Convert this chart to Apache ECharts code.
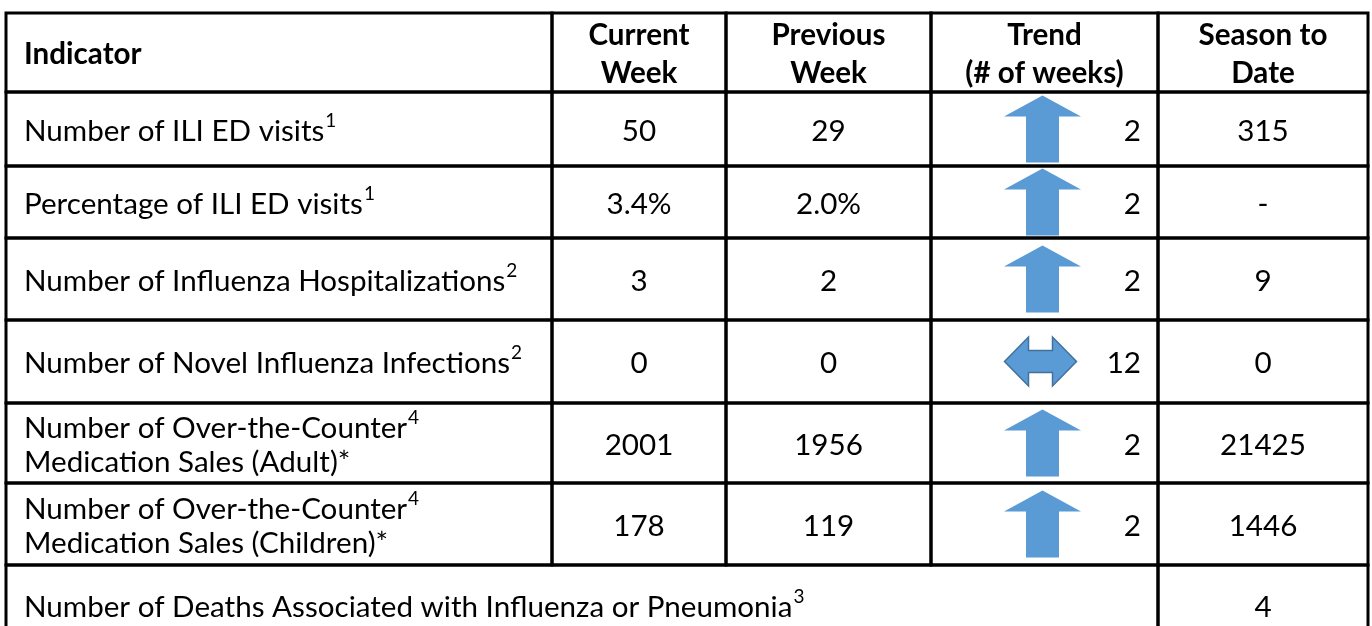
<!DOCTYPE html>
<html><head><meta charset="utf-8">
<script src="https://cdn.jsdelivr.net/npm/echarts@6/dist/echarts.min.js"></script>
<style>html,body{margin:0;padding:0;background:#fff}#c{width:1372px;height:626px}</style>
</head><body><div id="c"></div>
<script>
// ---- data ----
const headers = ['Indicator', 'Current\nWeek', 'Previous\nWeek', 'Trend\n(# of weeks)', 'Season to\nDate'];
const indicators = [
  'Number of ILI ED visits',
  'Percentage of ILI ED visits',
  'Number of Influenza Hospitalizations',
  'Number of Novel Influenza Infections',
  'Number of Over-the-Counter\nMedication Sales (Adult)*',
  'Number of Over-the-Counter\nMedication Sales (Children)*',
  'Number of Deaths Associated with Influenza or Pneumonia'
];
const footnotes = ['1', '1', '2', '2', '4', '4', '3'];
const currentWeek = ['50', '3.4%', '3', '0', '2001', '178'];
const previousWeek = ['29', '2.0%', '2', '0', '1956', '119'];
const trendDirection = ['up', 'up', 'up', 'flat', 'up', 'up'];
const trendWeeks = ['2', '2', '2', '12', '2', '2'];
const seasonToDate = ['315', '-', '9', '0', '21425', '1446', '4'];

// ---- layout (table geometry in page units) ----
const colEdges = [6, 552, 726, 931, 1158, 1368];
const rowEdges = [13, 92, 166, 238, 320, 403, 483, 565, 645];
const FONT = 'Lato, "Open Sans", sans-serif';
const mctx = document.createElement('canvas').getContext('2d');
mctx.font = '100px Lato';
const FS = Math.round(100 * 768 / mctx.measureText(indicators[6]).width * 10) / 10;
const SUP = Math.round(FS * 0.63);
const BLUE = '#5B9BD5';

// ---- cells built from the data arrays ----
const cells = [];
headers.forEach((h, i) => cells.push({ c0: i, c1: i + 1, r: 0, kind: 'header', text: h }));
indicators.forEach((t, i) => {
  const last = i === indicators.length - 1;
  cells.push({ c0: 0, c1: last ? 4 : 1, r: i + 1, kind: 'indicator', text: t, sup: footnotes[i] });
});
currentWeek.forEach((v, i) => cells.push({ c0: 1, c1: 2, r: i + 1, kind: 'value', text: v }));
previousWeek.forEach((v, i) => cells.push({ c0: 2, c1: 3, r: i + 1, kind: 'value', text: v }));
trendDirection.forEach((d, i) => cells.push({ c0: 3, c1: 4, r: i + 1, kind: 'trend', dir: d, text: trendWeeks[i] }));
seasonToDate.forEach((v, i) => cells.push({ c0: 4, c1: 5, r: i + 1, kind: 'value', text: v }));

const seriesData = cells.map(c => [c.c0, c.c1, c.r]);

function cellBox(api) {
  const p0 = api.coord([colEdges[api.value(0)], rowEdges[api.value(2)]]);
  const p1 = api.coord([colEdges[api.value(1)], rowEdges[api.value(2) + 1]]);
  return { x: p0[0], y: p0[1], w: p1[0] - p0[0], h: p1[1] - p0[1] };
}

function renderBorder(params, api) {
  const b = cellBox(api);
  return { type: 'rect', shape: { x: b.x, y: b.y, width: b.w, height: b.h },
    style: { fill: 'none', stroke: '#000', lineWidth: 3 } };
}

function upArrow(cx, cy) {
  return [[cx, cy - 33.5], [cx + 38.5, cy - 12.5], [cx + 16.5, cy - 12.5], [cx + 16.5, cy + 33.5],
          [cx - 16.5, cy + 33.5], [cx - 16.5, cy - 12.5], [cx - 38.5, cy - 12.5]];
}
function flatArrow(cx, cy) {
  return [[cx - 36, cy], [cx - 12, cy - 24.5], [cx - 12, cy - 11], [cx + 12, cy - 11], [cx + 12, cy - 24.5],
          [cx + 36, cy], [cx + 12, cy + 24.5], [cx + 12, cy + 11], [cx - 12, cy + 11], [cx - 12, cy + 24.5]];
}

function txt(x, y, style) {
  return { type: 'text', x: x, y: y,
    style: Object.assign({ x: 0, y: 0, fill: '#000', fontFamily: FONT, fontSize: FS, verticalAlign: 'middle' }, style) };
}

function renderContent(params, api) {
  const c = cells[params.dataIndex];
  const b = cellBox(api);
  const cx = b.x + b.w / 2, cy = b.y + b.h / 2;
  if (c.kind === 'header') {
    const left = c.c0 === 0;
    return txt(left ? b.x + 18 : cx, cy + 2, { text: c.text, align: left ? 'left' : 'center',
      fontWeight: 'bold', lineHeight: 38 });
  }
  if (c.kind === 'indicator') {
    const lines = c.text.split('\n');
    const rt = lines.map((l, i) => '{t|' + l + '}' + (i === 0 ? '{s|' + c.sup + '}' : '')).join('\n');
    const lh = lines.length > 1 ? 34 : 38;
    return txt(b.x + 18, cy + 2, { text: rt, align: 'left',
      rich: {
        t: { fontFamily: FONT, fontSize: FS, lineHeight: lh, fill: '#000' },
        s: { fontFamily: FONT, fontSize: SUP, lineHeight: SUP, verticalAlign: 'top', fill: '#000',
             padding: [lines.length > 1 ? -3 : -1, 0, 0, 1] }
      } });
  }
  if (c.kind === 'trend') {
    const pts = c.dir === 'up' ? upArrow(cx - 2, cy) : flatArrow(cx - 4, cy);
    return { type: 'group', children: [
      { type: 'polygon', shape: { points: pts },
        style: c.dir === 'up' ? { fill: BLUE } : { fill: BLUE, stroke: '#41719C', lineWidth: 1.5 } },
      txt(b.x + b.w - 17, cy + 2, { text: c.text, align: 'right' })
    ] };
  }
  return txt(cx, cy + 2, { text: c.text, align: 'center' });
}

const chart = echarts.init(document.getElementById('c'), null, { renderer: 'canvas' });
chart.setOption({
  animation: false,
  backgroundColor: '#fff',
  grid: { left: 0, right: 0, top: 0, bottom: 0 },
  xAxis: { type: 'value', min: 0, max: 1372, show: false },
  yAxis: { type: 'value', min: 0, max: 626, inverse: true, show: false },
  series: [
    { type: 'custom', name: 'grid', z: 1, renderItem: renderBorder, data: seriesData, silent: true },
    { type: 'custom', name: 'content', z: 2, renderItem: renderContent, data: seriesData, silent: true }
  ]
});
</script></body></html>
